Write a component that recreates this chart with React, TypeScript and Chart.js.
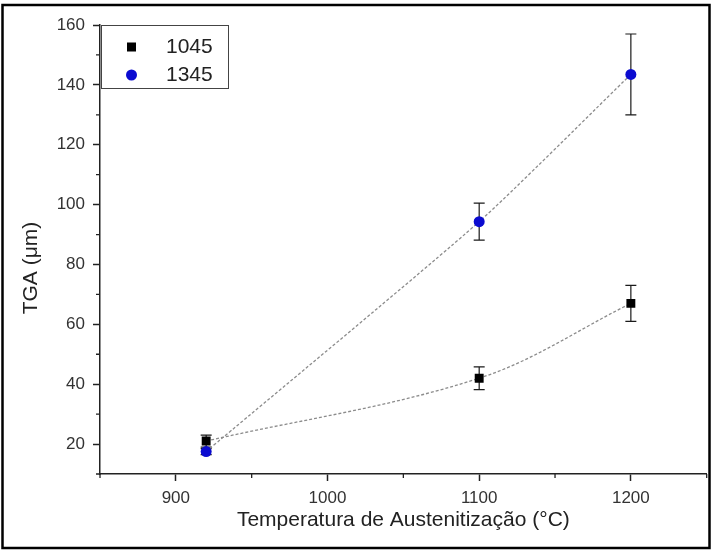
import { useEffect, useRef } from 'react';
import { Chart, registerables } from 'chart.js';

Chart.register(...registerables);

// ---- data ----
const temperatures = [920, 1100, 1200];
const tga1045 = [21, 42, 67];
const err1045 = [2, 3.8, 6];
const tga1345 = [17.5, 94.3, 143.5];
const err1345 = [1, 6.2, 13.5];
const seriesLabels = ['1045', '1345'];
const xMajorTicks = [900, 1000, 1100, 1200];
const xMinorTicks = [850, 950, 1050, 1150, 1250];
const yMajorTicks = [20, 40, 60, 80, 100, 120, 140, 160];
const yMinorTicks = [10, 30, 50, 70, 90, 110, 130, 150];
const xTitle = 'Temperatura de Austenitização (°C)';
const yTitle = 'TGA (μm)';

const FONT = "'Liberation Sans', Arial, sans-serif";
const BLUE = '#0b0bd0';

const errorSets = [err1045, err1345];

const errorBarsPlugin = {
  id: 'errorBars',
  beforeDatasetsDraw(chart: any) {
    const { ctx, scales } = chart;
    const x = scales.x, y = scales.y;
    ctx.save();
    ctx.strokeStyle = '#1a1a1a';
    ctx.lineWidth = 1.2;
    chart.data.datasets.forEach((ds: any, i: number) => {
      const errs = errorSets[i];
      ds.data.forEach((pt: any, j: number) => {
        const px = x.getPixelForValue(pt.x);
        const top = y.getPixelForValue(pt.y + errs[j]);
        const bot = y.getPixelForValue(pt.y - errs[j]);
        ctx.beginPath();
        ctx.moveTo(px, top);
        ctx.lineTo(px, bot);
        ctx.moveTo(px - 5.5, top);
        ctx.lineTo(px + 5.5, top);
        ctx.moveTo(px - 5.5, bot);
        ctx.lineTo(px + 5.5, bot);
        ctx.stroke();
      });
    });
    ctx.restore();
  },
};

const decorPlugin = {
  id: 'decor',
  afterDraw(chart: any) {
    const { ctx, scales, chartArea } = chart;
    const x = scales.x, y = scales.y;
    ctx.save();
    // minor ticks
    ctx.strokeStyle = '#222';
    ctx.lineWidth = 1.3;
    ctx.beginPath();
    xMinorTicks.forEach((v) => {
      const px = x.getPixelForValue(v);
      ctx.moveTo(px, x.top);
      ctx.lineTo(px, x.top + 4);
    });
    yMinorTicks.forEach((v) => {
      const py = y.getPixelForValue(v);
      ctx.moveTo(y.right, py);
      ctx.lineTo(y.right - 4, py);
    });
    ctx.stroke();

    // y-axis title
    ctx.save();
    ctx.translate(31, 268);
    ctx.rotate(-Math.PI / 2);
    ctx.fillStyle = '#222';
    ctx.font = `21px ${FONT}`;
    ctx.textAlign = 'center';
    ctx.textBaseline = 'middle';
    ctx.fillText(yTitle, 0, 0);
    ctx.restore();

    // legend
    const lx = chartArea.left + 1;
    const ly = chartArea.top;
    const lw = 127;
    const lh = 63;
    ctx.fillStyle = '#fff';
    ctx.fillRect(lx, ly, lw, lh);
    ctx.strokeStyle = '#444';
    ctx.lineWidth = 1;
    ctx.strokeRect(lx + 0.5, ly + 0.5, lw, lh);
    const rows = [ly + 22, ly + 50];
    ctx.fillStyle = '#000';
    ctx.fillRect(lx + 26, rows[0] - 4.5, 9, 9);
    ctx.fillStyle = BLUE;
    ctx.beginPath();
    ctx.arc(lx + 30.5, rows[1], 5.5, 0, Math.PI * 2);
    ctx.fill();
    ctx.fillStyle = '#222';
    ctx.font = `21px ${FONT}`;
    ctx.textBaseline = 'middle';
    ctx.textAlign = 'left';
    ctx.fillText(seriesLabels[0], lx + 65, rows[0]);
    ctx.fillText(seriesLabels[1], lx + 65, rows[1]);

    // outer frame
    ctx.strokeStyle = '#000';
    ctx.lineWidth = 2.5;
    ctx.strokeRect(2.5, 5, 707, 543);
    ctx.restore();
  },
};

export default function App() {
  const ref = useRef<HTMLCanvasElement | null>(null);
  useEffect(() => {
    if (!ref.current) return;
    const chart = new Chart(ref.current, {
      type: 'line',
      data: {
        datasets: [
          {
            label: seriesLabels[0],
            data: temperatures.map((t, i) => ({ x: t, y: tga1045[i] })),
            borderColor: '#8c8c8c',
            borderWidth: 1.3,
            borderDash: [3, 2],
            tension: 0.35,
            pointStyle: 'rect',
            pointRadius: 6.3,
            pointBackgroundColor: '#000',
            pointBorderColor: '#000',
            pointBorderWidth: 0,
            order: 1,
          },
          {
            label: seriesLabels[1],
            data: temperatures.map((t, i) => ({ x: t, y: tga1345[i] })),
            borderColor: '#8c8c8c',
            borderWidth: 1.3,
            borderDash: [3, 2],
            tension: 0.2,
            pointStyle: 'circle',
            pointRadius: 5.5,
            pointBackgroundColor: BLUE,
            pointBorderColor: BLUE,
            pointBorderWidth: 0,
            order: 0,
          },
        ],
      },
      options: {
        responsive: false,
        animation: false,
        layout: { padding: { left: 0, right: 6, top: 25, bottom: 0 } },
        plugins: {
          legend: { display: false },
          tooltip: { enabled: false },
        },
        scales: {
          x: {
            type: 'linear',
            min: 850,
            max: 1250,
            afterBuildTicks: (s: any) => {
              s.ticks = xMajorTicks.map((v) => ({ value: v }));
            },
            afterFit: (s: any) => {
              s.height = 77;
            },
            grid: {
              drawOnChartArea: false,
              drawTicks: true,
              tickLength: 7,
              tickColor: '#222',
              tickWidth: 1.5,
            },
            border: { display: true, color: '#222', width: 1.5 },
            ticks: {
              color: '#333',
              font: { family: FONT, size: 17 },
              padding: 7,
              maxRotation: 0,
              callback: (v: any) => String(v),
            },
            title: {
              display: true,
              text: xTitle,
              color: '#222',
              font: { family: FONT, size: 21 },
              padding: { top: 0, bottom: 18 },
            },
          },
          y: {
            type: 'linear',
            min: 10,
            max: 160,
            afterBuildTicks: (s: any) => {
              s.ticks = yMajorTicks.map((v) => ({ value: v }));
            },
            afterFit: (s: any) => {
              s.width = 100;
            },
            grid: {
              drawOnChartArea: false,
              drawTicks: true,
              tickLength: 7,
              tickColor: '#222',
              tickWidth: 1.5,
            },
            border: { display: true, color: '#222', width: 1.5 },
            ticks: {
              color: '#333',
              font: { family: FONT, size: 17 },
              padding: 8,
              callback: (v: any) => String(v),
            },
            title: { display: false },
          },
        },
      },
      plugins: [errorBarsPlugin, decorPlugin],
    } as any);
    return () => chart.destroy();
  }, []);
  return (
    <div style={{ position: 'fixed', left: 0, top: 0, width: 713, height: 551, background: '#fff' }}>
      <canvas ref={ref} width={713} height={551} />
    </div>
  );
}
